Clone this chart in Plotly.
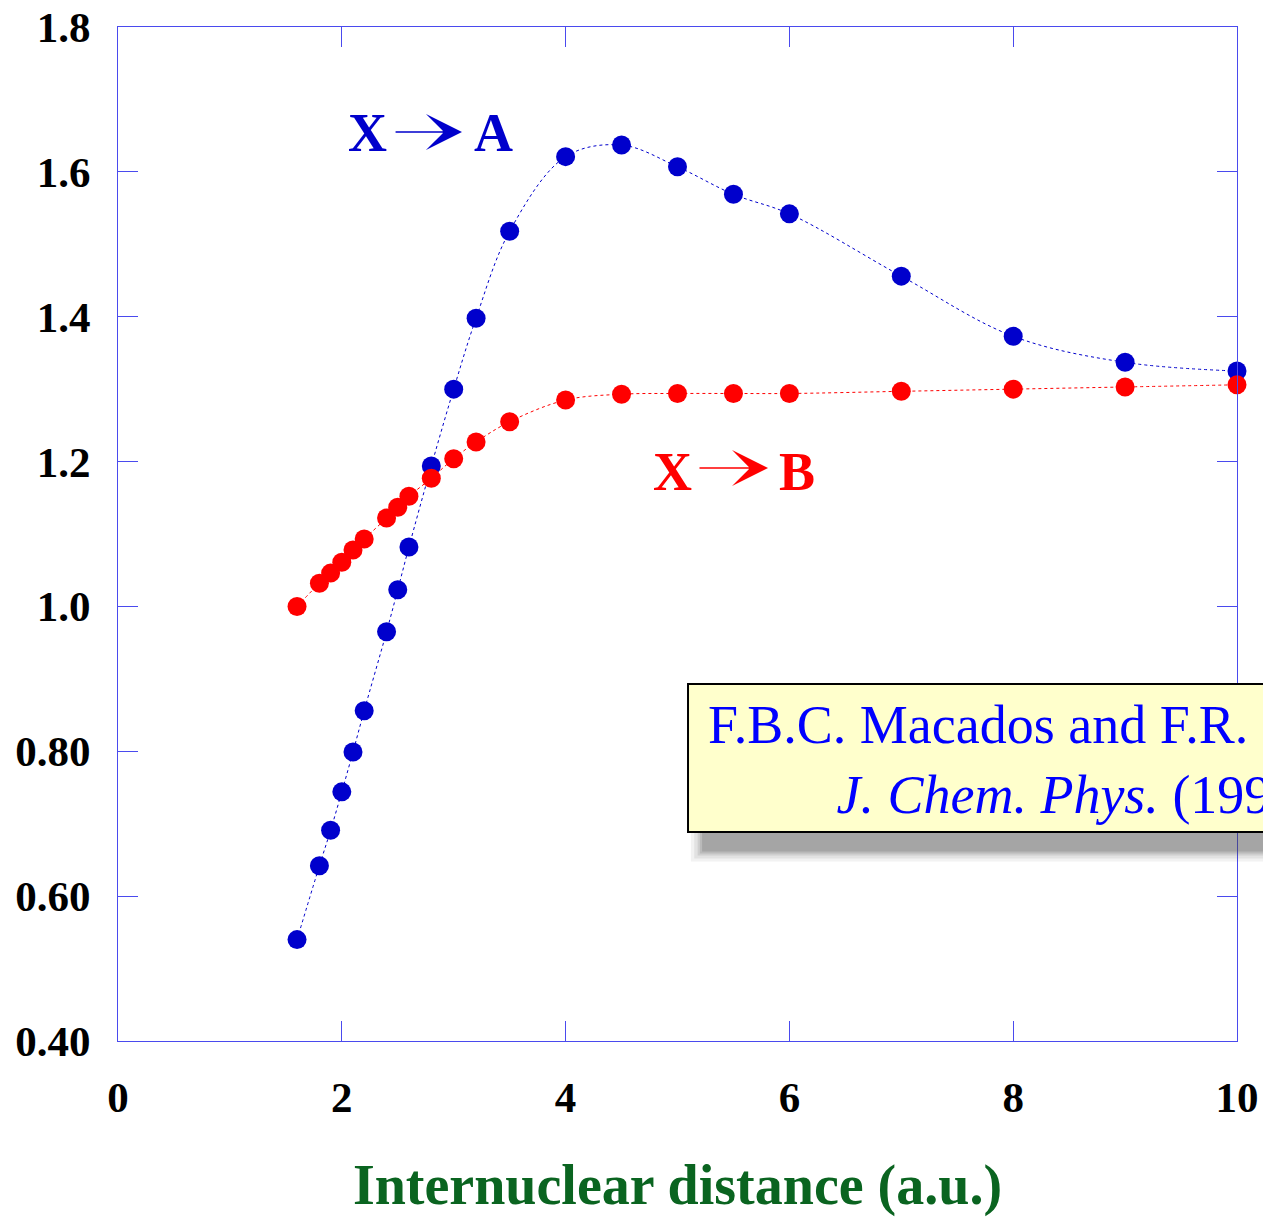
import plotly.graph_objects as go

# Internuclear distance grid (a.u.)
r_au = [1.6, 1.8, 1.9, 2.0, 2.1, 2.2, 2.4, 2.5, 2.6, 2.8, 3.0, 3.2, 3.5,
        4.0, 4.5, 5.0, 5.5, 6.0, 7.0, 8.0, 9.0, 10.0]

# Transition values for X -> A and X -> B
x_to_a = [0.540, 0.642, 0.691, 0.744, 0.799, 0.856, 0.965, 1.023, 1.082,
          1.194, 1.300, 1.398, 1.518, 1.621, 1.637, 1.607, 1.569, 1.542,
          1.456, 1.373, 1.337, 1.325]
x_to_b = [1.000, 1.032, 1.046, 1.061, 1.078, 1.093, 1.122, 1.137, 1.152,
          1.177, 1.204, 1.227, 1.255, 1.285, 1.293, 1.294, 1.294, 1.294,
          1.297, 1.300, 1.303, 1.306]

x_ticks = [0, 2, 4, 6, 8, 10]
x_tick_text = ["0", "2", "4", "6", "8", "10"]
y_ticks = [0.4, 0.6, 0.8, 1.0, 1.2, 1.4, 1.6, 1.8]
y_tick_text = ["0.40", "0.60", "0.80", "1.0", "1.2", "1.4", "1.6", "1.8"]

BLUE = "#0000cc"
RED = "#ff0000"
AXIS = "#4a4aee"
SERIF = "Liberation Serif, Times New Roman, serif"

fig = go.Figure()
fig.add_trace(go.Scatter(
    x=r_au, y=x_to_a, mode="lines+markers", name="X→A",
    line=dict(color=BLUE, width=1, dash="dot", shape="spline"),
    marker=dict(color=BLUE, size=19), cliponaxis=False))
fig.add_trace(go.Scatter(
    x=r_au, y=x_to_b, mode="lines+markers", name="X→B",
    line=dict(color=RED, width=1, dash="dot", shape="spline"),
    marker=dict(color=RED, size=19), cliponaxis=False))

tick_font = dict(family=SERIF, size=43, color="black", weight="bold")

fig.update_xaxes(
    range=[0, 10], tickvals=x_ticks, ticktext=x_tick_text, automargin=False,
    showgrid=False, zeroline=False, showline=True, linecolor=AXIS,
    linewidth=1, mirror="ticks", ticks="inside", ticklen=20, tickwidth=1,
    tickcolor=AXIS, tickfont=tick_font, ticklabelstandoff=18,
    title=dict(text="Internuclear distance (a.u.)", standoff=49,
               font=dict(family=SERIF, size=56, color="#0a6420",
                         weight="bold")))
fig.update_yaxes(
    range=[0.4, 1.8], tickvals=y_ticks, ticktext=y_tick_text,
    automargin=False,
    showgrid=False, zeroline=False, showline=True, linecolor=AXIS,
    linewidth=1, mirror="ticks", ticks="inside", ticklen=20, tickwidth=1,
    tickcolor=AXIS, tickfont=tick_font, ticklabelstandoff=18)

# Reference box with a soft drop shadow (stacked translucent layers)
shadow_layers = [(0.010, 0.07), (0.007, 0.09), (0.004, 0.12),
                 (0.002, 0.15), (0.0, 0.18)]
for grow, alpha in shadow_layers:
    fig.add_shape(type="rect", xref="paper", yref="paper",
                  x0=0.522 - grow, x1=1.10, y0=0.187 - grow, y1=0.336,
                  fillcolor=f"rgba(70,70,70,{alpha})", line=dict(width=0),
                  layer="above")
fig.add_shape(type="rect", xref="paper", yref="paper",
              x0=0.5094, x1=1.10, y0=0.2061, y1=0.3521,
              fillcolor="#ffffcc", line=dict(color="black", width=2),
              layer="above")
fig.add_annotation(
    xref="paper", yref="paper", x=0.8566, y=0.277,
    xanchor="center", yanchor="middle", showarrow=False, align="center",
    text="F.B.C. Macados and F.R. Ornellas<br><i>J. Chem. Phys.</i> (1991)",
    font=dict(family=SERIF, size=54, color="#0000ff"))

# Transition labels with arrows
label_font_a = dict(family=SERIF, size=54, color=BLUE, weight="bold")
label_font_b = dict(family=SERIF, size=54, color=RED, weight="bold")
fig.add_annotation(x=2.23, y=1.653, text="X", showarrow=False,
                   font=label_font_a)
fig.add_annotation(x=3.36, y=1.653, text="A", showarrow=False,
                   font=label_font_a)
fig.add_annotation(x=3.074, y=1.655, ax=2.467, ay=1.655, axref="x",
                   ayref="y", text="", showarrow=True, arrowhead=3,
                   arrowwidth=1.5, arrowsize=4, arrowcolor=BLUE)
fig.add_annotation(x=4.956, y=1.186, text="X", showarrow=False,
                   font=label_font_b)
fig.add_annotation(x=6.072, y=1.186, text="B", showarrow=False,
                   font=label_font_b)
fig.add_annotation(x=5.809, y=1.191, ax=5.183, ay=1.191, axref="x",
                   ayref="y", text="", showarrow=True, arrowhead=3,
                   arrowwidth=1.5, arrowsize=4, arrowcolor=RED)

fig.update_layout(
    width=1263, height=1217, showlegend=False,
    margin=dict(l=118, r=26, t=27, b=176),
    paper_bgcolor="white", plot_bgcolor="white")

fig.write_html("out.html")
